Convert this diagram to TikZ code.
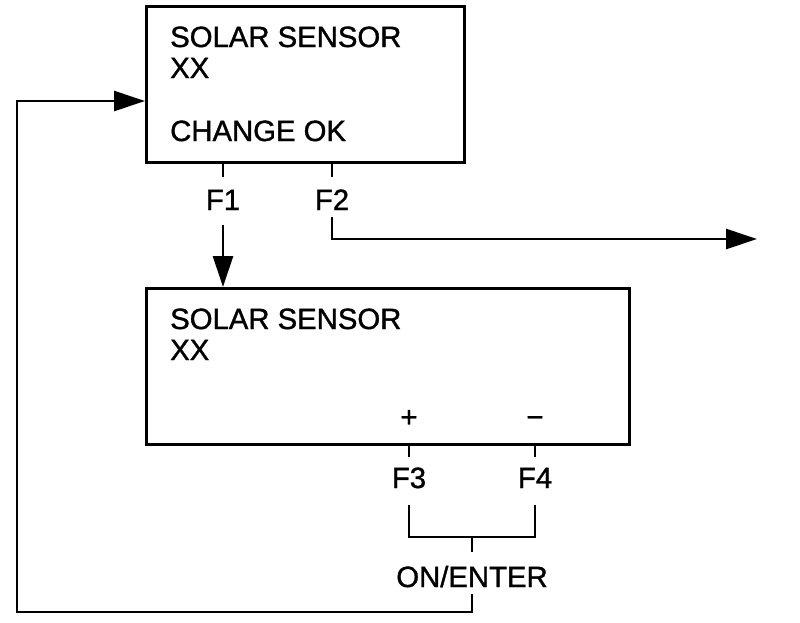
\documentclass[tikz,border=0pt]{standalone}
\usepackage{fontspec}
\setmainfont[FakeBold=1.2,AutoFakeBold=1.2]{Liberation Sans}
\usetikzlibrary{arrows.meta}
\begin{document}
\begin{tikzpicture}[x=1pt,y=-1pt,
  box/.style={draw, line width=3pt, inner sep=0pt, anchor=north west},
  txt/.style={inner sep=0pt, anchor=base west, font=\fontsize{29.3}{34}\selectfont\bfseries},
  lbl/.style={inner sep=0pt, anchor=base, font=\fontsize{29.3}{34}\selectfont\bfseries},
  wire/.style={line width=2.6pt},
  arr/.style={wire, -{Triangle[length=31pt,width=20pt]}}]
\useasboundingbox (0,0) rectangle (800,622);
% boxes
\node[box, minimum width=318pt, minimum height=156pt] (top) at (145,5) {};
\node[box, minimum width=483pt, minimum height=156pt] (bot) at (145,287) {};
% texts in top box
\node[txt] (t1) at (170,47) {SOLAR SENSOR};
\node[txt] (t2) at (170,78) {XX};
\node[txt] (t3) at (170,141) {CHANGE OK};
% texts in bottom box
\node[txt] (b1) at (170,329) {SOLAR SENSOR};
\node[txt] (b2) at (170,360) {XX};
\node[lbl] (plus) at (409,427) {+};
\node[lbl] (minus) at (535,427) {\textminus};
% key labels
\node[lbl] (f1) at (223,210) {F1};
\node[lbl] (f2) at (332,210) {F2};
\node[lbl] (f3) at (409,488) {F3};
\node[lbl] (f4) at (535,488) {F4};
\node[lbl] (on) at (472,587) {ON/ENTER};
% coordinates
\coordinate (f1a) at (223,161);
\coordinate (f1b) at (223,177);
\coordinate (f1c) at (223,225);
\coordinate (f2a) at (332,161);
\coordinate (f2b) at (332,177);
\coordinate (f2c) at (332,217);
\coordinate (f2d) at (332,239);
\coordinate (out) at (757,239);
\coordinate (f3a) at (409,443);
\coordinate (f3b) at (409,457);
\coordinate (f4a) at (535,443);
\coordinate (f4b) at (535,457);
\coordinate (f3c) at (409,505);
\coordinate (f3d) at (409,537);
\coordinate (f4c) at (535,505);
\coordinate (f4d) at (535,537);
\coordinate (mid) at (472,537);
\coordinate (midb) at (472,552);
\coordinate (ret1) at (472,594);
\coordinate (ret2) at (472,612);
\coordinate (ret3) at (17,612);
\coordinate (ret4) at (17,101);
% connectors
\draw[wire] (f1a) -- (f1b);
\draw[arr] (f1c) -- (f1c |- bot.north);
\draw[wire] (f2a) -- (f2b);
\draw[arr] (f2c) -- (f2d) -- (out);
\draw[wire] (f3a) -- (f3b);
\draw[wire] (f4a) -- (f4b);
\draw[wire] (f3c) -- (f3d) -- (f4d) -- (f4c);
\draw[wire] (mid) -- (midb);
\draw[arr] (ret1) -- (ret2) -- (ret3) -- (ret4) -- (ret4 -| top.west);
\end{tikzpicture}
\end{document}
